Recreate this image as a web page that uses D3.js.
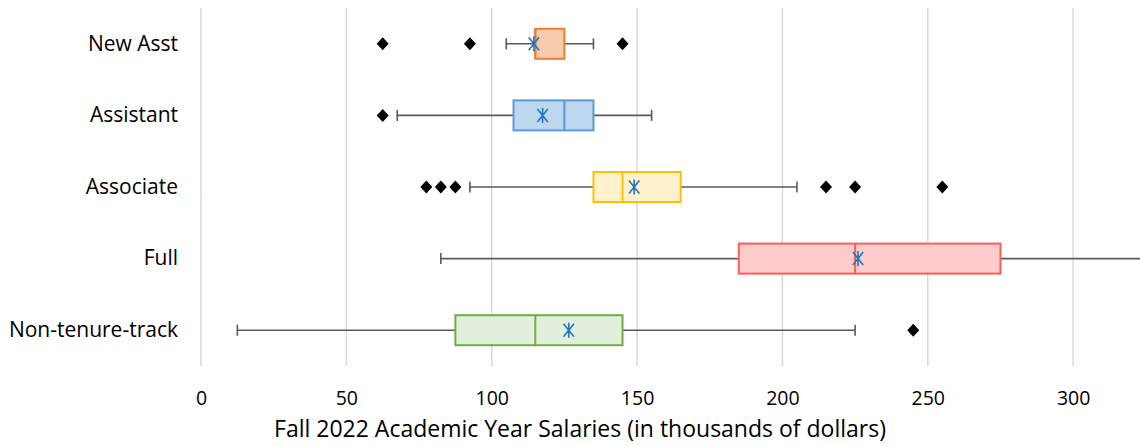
<!DOCTYPE html>
<html>
<head>
<meta charset="utf-8">
<script src="https://cdn.jsdelivr.net/npm/d3@7"></script>
<style>
  body { margin: 0; background: #fff; }
  text { font-family: "Open Sans", Lato, sans-serif; fill: #000; }
</style>
</head>
<body>
<svg id="svg" width="1140" height="446"></svg>
<script>
(function() {

    const svg = d3.select('#svg')
    const width = 1140, height = 446, marginLeft = 201,
    marginRight = 0, marginTop = 8, marginBottom = 80

    // data (thousands of dollars)
    const categories = ["New Asst", "Assistant", "Associate", "Full", "Non-tenure-track"]
    const whiskerLow = [105, 67.5, 92.5, 82.5, 12.5]
    const q1 = [115, 107.5, 135, 185, 87.5]
    const median = [115, 125, 145, 225, 115]
    const q3 = [125, 135, 165, 275, 145]
    const whiskerHigh = [135, 155, 205, 335, 225]
    const means = [114.5, 117.5, 149, 226, 126.5]
    const outliers = [
        [62.5, 92.5, 145],
        [62.5],
        [77.5, 82.5, 87.5, 215, 225, 255],
        [],
        [245]
    ]
    const ticks = [0, 50, 100, 150, 200, 250, 300]

    const fills = ["#F8CBAD", "#BDD7EE", "#FFF2CC", "#FFCCCC", "#E2EFDA"]
    const strokes = ["#ED7D31", "#5B9BD5", "#FFC000", "#FF5B5B", "#70AD47"]

    const x = d3.scaleLinear()
        .domain([0, 323])
        .range([marginLeft, width - marginRight])

    const y = d3.scaleBand()
        .domain(categories)
        .range([marginTop, height - marginBottom])

    // gridlines
    svg.selectAll('.grid')
        .data(ticks)
        .enter()
        .append('line')
            .attr('x1', d => x(d))
            .attr('x2', d => x(d))
            .attr('y1', marginTop)
            .attr('y2', height - marginBottom)
            .style('stroke', '#D9D9D9')
            .style('stroke-width', 1.5)

    // x tick labels
    const xAxis = svg.append('g')
        .attr('transform', `translate(0, ${height - marginBottom})`)
        .call(d3.axisBottom(x).tickValues(ticks).tickSize(0).tickPadding(25))
    xAxis.select('.domain').remove()
    xAxis.selectAll('text')
        .style('font-size', '19.5px')
        .style('fill', '#000')
        .attr('font-family', null)

    // y labels
    const yAxis = svg.append('g')
        .attr('transform', `translate(${marginLeft - 23}, 0)`)
        .call(d3.axisLeft(y).tickSize(0).tickPadding(0))
    yAxis.select('.domain').remove()
    yAxis.selectAll('text')
        .style('font-size', '21px')
        .style('fill', '#000')
        .attr('font-family', null)

    // axis title
    svg.append('text')
        .attr('x', 580)
        .attr('y', 437)
        .attr('text-anchor', 'middle')
        .style('font-size', '23px')
        .text("Fall 2022 Academic Year Salaries (in thousands of dollars)")

    const rows = categories.map((c, i) => ({
        cat: c, lo: whiskerLow[i], q1: q1[i], med: median[i], q3: q3[i],
        hi: whiskerHigh[i], mean: means[i], out: outliers[i], i: i
    }))

    const boxH = 30, capH = 11
    const cy = d => y(d.cat) + y.bandwidth() / 2

    const g = svg.append('g').selectAll('g')
        .data(rows)
        .enter()
        .append('g')

    // whiskers
    g.append('line')
        .attr('x1', d => x(d.lo))
        .attr('x2', d => x(d.hi))
        .attr('y1', cy).attr('y2', cy)
        .style('stroke', '#595959')
        .style('stroke-width', 1.6)

    g.each(function(d) {
        const sel = d3.select(this)
        ;[d.lo, d.hi].forEach(v => {
            sel.append('line')
                .attr('x1', x(v)).attr('x2', x(v))
                .attr('y1', cy(d) - capH / 2).attr('y2', cy(d) + capH / 2)
                .style('stroke', '#595959')
                .style('stroke-width', 1.6)
        })
    })

    // boxes
    g.append('rect')
        .attr('x', d => x(d.q1))
        .attr('y', d => cy(d) - boxH / 2)
        .attr('width', d => x(d.q3) - x(d.q1))
        .attr('height', boxH)
        .style('fill', d => fills[d.i])
        .style('stroke', d => strokes[d.i])
        .style('stroke-width', 2)

    // median
    g.append('line')
        .attr('x1', d => x(d.med)).attr('x2', d => x(d.med))
        .attr('y1', d => cy(d) - boxH / 2).attr('y2', d => cy(d) + boxH / 2)
        .style('stroke', d => strokes[d.i])
        .style('stroke-width', 2)

    // mean marker (asterisk)
    const m = 6.5
    g.append('path')
        .attr('d', d => {
            const mx = x(d.mean), my = cy(d)
            return `M${mx - m * 0.8},${my - m}L${mx + m * 0.8},${my + m}` +
                `M${mx - m * 0.8},${my + m}L${mx + m * 0.8},${my - m}` +
                `M${mx},${my - m - 1}L${mx},${my + m + 1}`
        })
        .style('stroke', '#1F77C4')
        .style('stroke-width', 1.6)
        .style('fill', 'none')

    // outliers
    g.each(function(d) {
        d3.select(this).selectAll('.out')
            .data(d.out)
            .enter()
            .append('path')
                .attr('transform', v => `translate(${x(v)}, ${cy(d)})`)
                .attr('d', 'M0,-6.5L6,0L0,6.5L-6,0Z')
                .style('fill', '#000')
    })

})();
</script>
</body>
</html>
